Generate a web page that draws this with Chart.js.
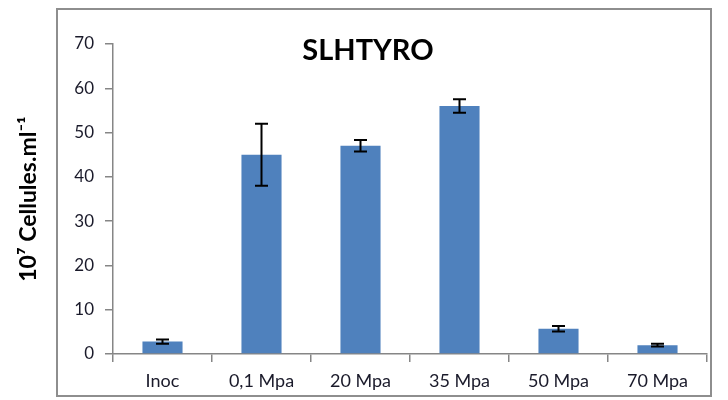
<!DOCTYPE html>
<html>
<head>
<meta charset="utf-8">
<script src="https://cdn.jsdelivr.net/npm/chart.js@4"></script>
<style>
  html, body { margin: 0; padding: 0; background: #fff; }
  #wrap { width: 728px; height: 400px; }
</style>
</head>
<body>
<div id="wrap"><canvas id="chart" width="728" height="400"></canvas></div>
<script>
// data
const categories = ['Inoc', '0,1 Mpa', '20 Mpa', '35 Mpa', '50 Mpa', '70 Mpa'];
const cellCounts = [2.8, 45, 47, 56, 5.7, 2.0];
const errors = [0.5, 7, 1.3, 1.5, 0.6, 0.3];
const yTicks = [0, 10, 20, 30, 40, 50, 60, 70];

const axisColor = '#868686';
const textColor = '#1a1a2a';

// outer frame around the chart
const framePlugin = {
  id: 'frame',
  beforeDraw: (chart) => {
    const ctx = chart.ctx;
    ctx.save();
    ctx.strokeStyle = '#8e8e8e';
    ctx.lineWidth = 2;
    ctx.strokeRect(57, 9, 654, 387);
    ctx.restore();
  }
};

// error bars drawn through the y scale
const errorBarPlugin = {
  id: 'errorBars',
  afterDatasetsDraw: (chart) => {
    const ctx = chart.ctx;
    const y = chart.scales.y;
    const meta = chart.getDatasetMeta(0);
    ctx.save();
    ctx.strokeStyle = '#000';
    ctx.lineWidth = 2;
    meta.data.forEach((bar, i) => {
      const v = cellCounts[i];
      const e = errors[i];
      const top = y.getPixelForValue(v + e);
      const bottom = y.getPixelForValue(v - e);
      const x = bar.x;
      ctx.beginPath();
      ctx.moveTo(x, top);
      ctx.lineTo(x, bottom);
      ctx.moveTo(x - 6.5, top);
      ctx.lineTo(x + 6.5, top);
      ctx.moveTo(x - 6.5, bottom);
      ctx.lineTo(x + 6.5, bottom);
      ctx.stroke();
    });
    ctx.restore();
  }
};

// title sits inside the plot, like the original
const titlePlugin = {
  id: 'insideTitle',
  afterDraw: (chart) => {
    const ctx = chart.ctx;
    ctx.save();
    ctx.font = 'bold 29px Lato, "Open Sans", sans-serif';
    ctx.fillStyle = '#000';
    ctx.textAlign = 'center';
    ctx.textBaseline = 'middle';
    ctx.fillText('SLHTYRO', 368, 51);
    ctx.restore();
  }
};

const ctx = document.getElementById('chart').getContext('2d');
window.chart = new Chart(ctx, {
  type: 'bar',
  data: {
    labels: categories,
    datasets: [{
      data: cellCounts,
      backgroundColor: '#4F81BD',
      borderWidth: 0,
      barPercentage: 0.405,
      categoryPercentage: 1
    }]
  },
  options: {
    responsive: false,
    animation: false,
    layout: { padding: { top: 44, right: 21, left: 0, bottom: 0 } },
    plugins: {
      legend: { display: false },
      tooltip: { enabled: false }
    },
    scales: {
      x: {
        afterFit: (axis) => { axis.height = 46; },
        border: { color: axisColor, width: 1.5 },
        grid: {
          display: true,
          offset: true,
          drawOnChartArea: false,
          drawTicks: true,
          tickLength: 8,
          color: axisColor,
          lineWidth: 1.5
        },
        ticks: {
          color: textColor,
          font: { family: 'Lato, "Open Sans", sans-serif', size: 18 },
          padding: 8,
          maxRotation: 0
        }
      },
      y: {
        min: 0,
        max: 70,
        afterFit: (axis) => { axis.width = 113; },
        afterBuildTicks: (axis) => { axis.ticks = yTicks.map(v => ({ value: v })); },
        border: { color: axisColor, width: 1.5 },
        grid: {
          display: true,
          drawOnChartArea: false,
          drawTicks: true,
          tickLength: 8,
          color: axisColor,
          lineWidth: 1.5
        },
        ticks: {
          color: textColor,
          font: { family: 'Lato, "Open Sans", sans-serif', size: 17 },
          padding: 11
        },
        title: {
          display: true,
          text: '10\u2077 Cellules.ml\u207B\u00B9',
          color: '#000',
          font: { family: 'Lato, "Open Sans", sans-serif', size: 23, weight: 'bold' },
          padding: { top: 15, bottom: 0 }
        }
      }
    }
  },
  plugins: [framePlugin, errorBarPlugin, titlePlugin]
});
</script>
</body>
</html>
